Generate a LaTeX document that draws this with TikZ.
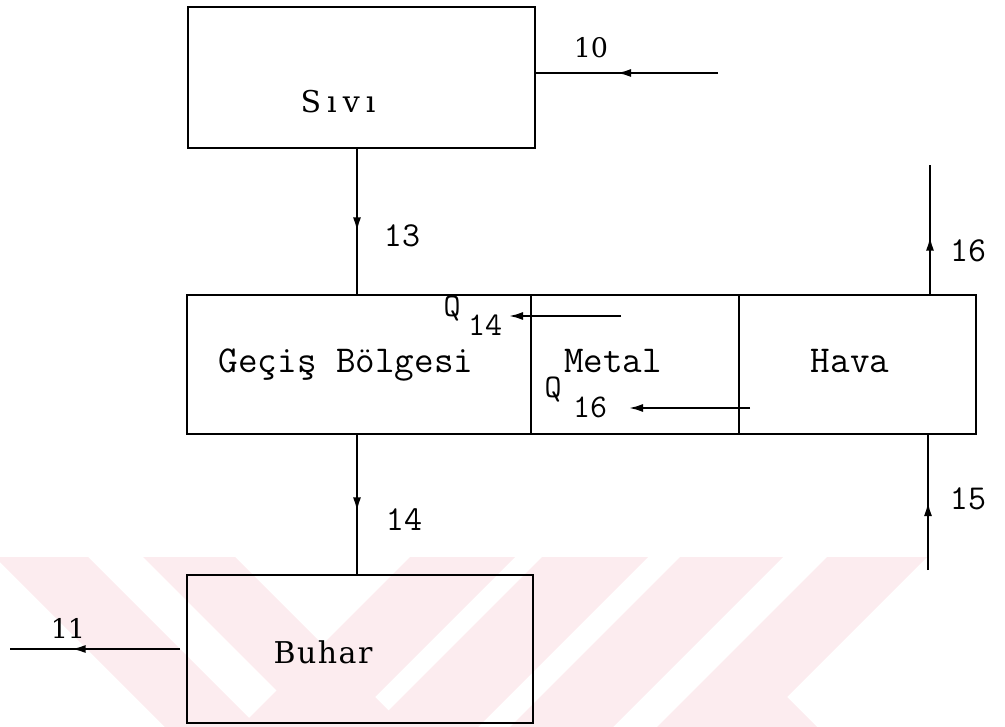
\documentclass[tikz,border=0pt]{standalone}
\usepackage{fontspec}
\newfontfamily\wserifa[LetterSpace=20]{DejaVu Serif}
\newfontfamily\wserifb[LetterSpace=5]{DejaVu Serif}
\newfontfamily\dserif{DejaVu Serif}
\usetikzlibrary{arrows.meta,decorations.markings}
\definecolor{wm}{RGB}{252,236,239}
\tikzset{
  box/.style={draw, line width=2.8pt, inner sep=0pt},
  flow/.style={line width=2pt, postaction={decorate},
    decoration={markings, mark=at position #1 with {\arrow{Latex[length=14pt,width=8pt]}}}},
  heat/.style={line width=2pt, -{Latex[length=14pt,width=8pt]}},
  ttl/.style={font=\ttfamily\addfontfeatures{FakeBold=0.8}\fontsize{38}{40}\selectfont, inner sep=0pt, anchor=base},
  num/.style={font=\ttfamily\fontsize{35}{37}\selectfont, inner sep=0pt, anchor=base},
  qlab/.style={font=\ttfamily\fontsize{33}{35}\selectfont, inner sep=0pt, anchor=base},
  rml/.style={inner sep=0pt, anchor=base},
  rnum/.style={font=\dserif\fontsize{27}{29}\selectfont, inner sep=0pt, anchor=base},
}
\begin{document}
\begin{tikzpicture}[x=1pt,y=-1pt]
\useasboundingbox (0,0) rectangle (1005,727);
% watermark
\begin{scope}
  \clip (0,557) rectangle (1005,727);
  \fill[wm] (-5,557) -- (88,557) -- (258,727) -- (165,727) -- cycle;
  \fill[wm] (143,557) -- (235,557) -- (405,727) -- (313,727) -- cycle;
  \fill[wm] (410,557) -- (515,557) -- (345,727) -- (240,727) -- cycle;
  \fill[wm] (542,557) -- (648,557) -- (478,727) -- (372,727) -- cycle;
  \fill[wm] (680,557) -- (783,557) -- (613,727) -- (510,727) -- cycle;
  \fill[wm] (827,557) -- (927,557) -- (787,697) -- (817,727) -- (657,727) -- cycle;
\end{scope}
% boxes
\node[box, minimum width=347pt, minimum height=141pt] (sivi) at (361.5,77.5) {};
\node[box, minimum width=344pt, minimum height=139pt] (gec) at (359,364.5) {};
\node[box, minimum width=208pt, minimum height=139pt] (metal) at (635,364.5) {};
\node[box, minimum width=237pt, minimum height=139pt] (hava) at (857.5,364.5) {};
\node[box, minimum width=346pt, minimum height=148pt] (buhar) at (360,649) {};
% texts
\node[rml, font=\wserifa\fontsize{30}{32}\selectfont] (tsivi) at (338,113) {Sıvı};
\node[rml, font=\wserifb\fontsize{30}{32}\selectfont] (tbuhar) at (323,663) {Buhar};
\node[ttl] (tgec) at (346,373) {Geçiş Bölgesi};
\node[ttl] (tmetal) at (613,373) {Metal};
\node[ttl] (thava) at (850,373) {Hava};
% stream labels
\node[rnum] (l10) at (591,58) {10};
\node[rnum] (l11) at (68,638) {11};
\node[num] (l13) at (402,247) {13};
\node[num] (l16) at (968,262) {16};
\node[num] (l14) at (404,530) {14};
\node[num] (l15) at (968,510) {15};
\node[qlab] (q14q) at (452,317) {Q};
\node[qlab] (q14n) at (485,336) {14};
\node[qlab] (q16q) at (553,398) {Q};
\node[qlab] (q16n) at (590,418) {16};
% free ends
\coordinate (p10) at (718,73);
\coordinate (p11) at (10,649);
\coordinate (x13) at (357,0);
\coordinate (p16) at (930,165);
\coordinate (p15) at (928,570);
\coordinate (q14s) at (621,316);
\coordinate (q14e) at (509,316);
\coordinate (q16s) at (750,408);
\coordinate (q16e) at (629,408);
% connectors
\draw[flow=101pt] (p10) -- (p10 -| sivi.east);
\draw[flow=82pt] (x13 |- sivi.south) -- (x13 |- gec.north);
\draw[flow=57pt] (p16 |- hava.north) -- (p16);
\draw[flow=76pt] (x13 |- gec.south) -- (x13 |- buhar.north);
\draw[flow=68pt] (p15) -- (p15 |- hava.south);
\draw[flow=114pt, shorten <=6pt] (p11 -| buhar.west) -- (p11);
\draw[heat] (q14s) -- (q14e);
\draw[heat] (q16s) -- (q16e);
\end{tikzpicture}
\end{document}
